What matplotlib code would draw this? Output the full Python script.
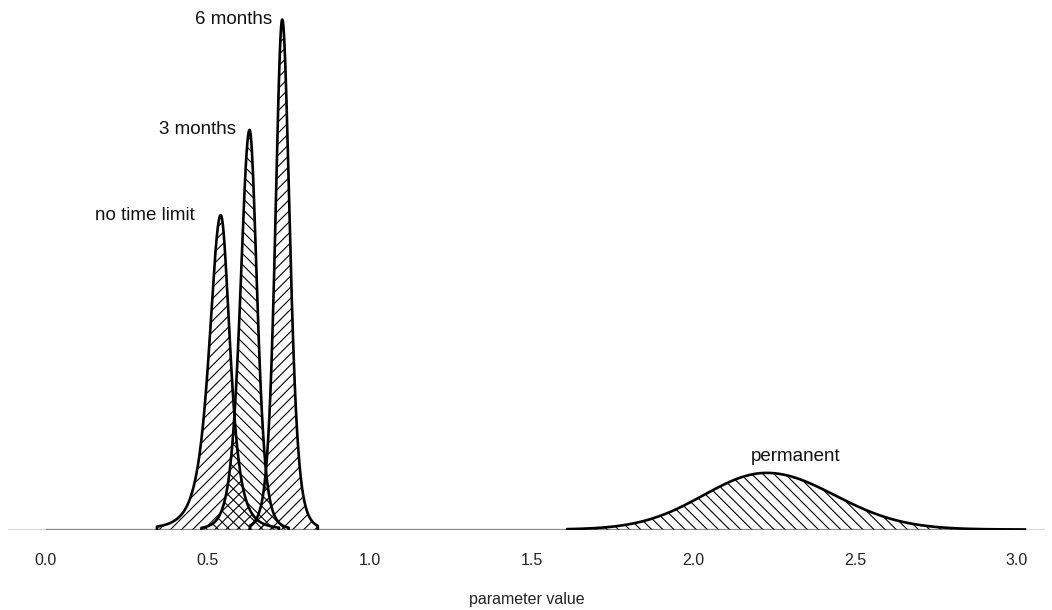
import numpy as np
import matplotlib
matplotlib.use("Agg")
import matplotlib.pyplot as plt

# Posterior densities of the parameter under each time-limit condition
series = ["no time limit", "3 months", "6 months", "permanent"]
mode = [0.540, 0.629, 0.730, 2.227]
peak_density = [12.33, 15.67, 20.0, 2.22]
scale_left = [0.037, 0.029, 0.022, 0.195]
scale_right = [0.030, 0.024, 0.024, 0.210]
tail_df = [3.0, 5.0, 5.0, np.inf]
support_lo = [0.343, 0.480, 0.630, 1.610]
support_hi = [0.720, 0.750, 0.840, 3.025]
hatches = ["///", "\\\\\\", "///", "\\\\\\"]

xticks = [0.0, 0.5, 1.0, 1.5, 2.0, 2.5, 3.0]
xtick_labels = ["0.0", "0.5", "1.0", "1.5", "2.0", "2.5", "3.0"]

plt.rcParams["font.family"] = ["Liberation Sans", "DejaVu Sans"]
plt.rcParams["hatch.linewidth"] = 0.8
plt.rcParams["hatch.color"] = "black"


def density(x, m, h, sl, sr, df):
    z = np.where(x < m, (x - m) / sl, (x - m) / sr)
    if np.isinf(df):
        shape = np.exp(-0.5 * z ** 2)
    else:
        shape = (1.0 + z ** 2 / df) ** (-(df + 1.0) / 2.0)
    return h * shape


fig = plt.figure(figsize=(10.52, 6.10), dpi=100)
ax = fig.add_axes([8 / 1052, (610 - 529.5) / 610, (1045 - 8) / 1052, (529.5 - 10) / 610])

x_left = (8 - 46) / 323.6
x_right = (1045 - 46) / 323.6
ax.set_xlim(x_left, x_right)
ax.set_ylim(0, max(peak_density) * 519.5 / 510)

# baseline
ax.axhline(0, color="#d6d6d6", lw=1.6, zorder=1)
ax.hlines(0, 0.0, 3.0, color="#8a8a8a", lw=1.6, zorder=1)

label_offsets = [(-18.5, 0), (-9.5, 0), (-7.5, 0), (20.5, 11.5)]
label_align = ["right", "right", "right", "center"]

for i, name in enumerate(series):
    x = np.linspace(support_lo[i], support_hi[i], 800)
    y = density(x, mode[i], peak_density[i], scale_left[i], scale_right[i], tail_df[i])
    ax.fill_between(x, 0, y, facecolor="none", edgecolor="black",
                    hatch=hatches[i], linewidth=0, zorder=2)
    xs = np.concatenate([[x[0]], x, [x[-1]]])
    ys = np.concatenate([[0.0], y, [0.0]])
    ax.plot(xs, ys, color="black", lw=1.9, solid_joinstyle="round", zorder=3)
    ax.annotate(name, xy=(mode[i], peak_density[i]), xytext=label_offsets[i],
                textcoords="offset points", ha=label_align[i], va="center",
                fontsize=13.5, color="#111111")

for s in ["left", "right", "top", "bottom"]:
    ax.spines[s].set_visible(False)
ax.set_yticks([])
ax.set_xticks(xticks)
ax.set_xticklabels(xtick_labels, fontsize=11.5, color="#222222")
ax.tick_params(axis="x", length=0, pad=17)
ax.set_xlabel("parameter value", fontsize=11.5, labelpad=17, color="#222222")

fig.savefig("out.png", dpi=100)
